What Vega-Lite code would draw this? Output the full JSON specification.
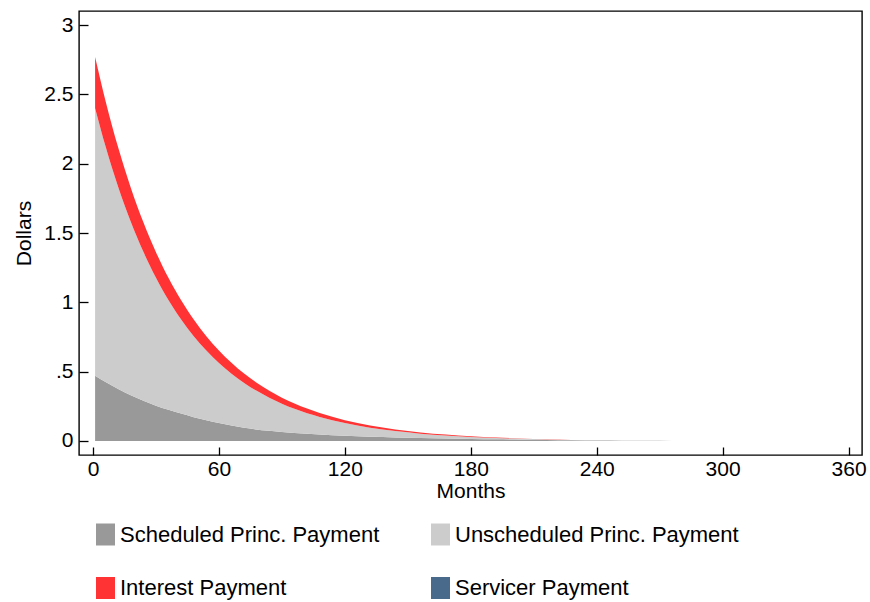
{
  "$schema": "https://vega.github.io/schema/vega-lite/v6.json",
  "width": 783,
  "height": 444,
  "autosize": {"type": "none"},
  "padding": {"left": 79, "top": 11, "right": 8, "bottom": 147},
  "config": {
    "font": "Liberation Sans",
    "view": {"stroke": "black", "strokeWidth": 1.4},
    "axis": {
      "grid": false, "domain": false, "tickColor": "black", "tickWidth": 1.3,
      "labelColor": "black", "titleColor": "black",
      "labelFont": "Liberation Sans", "titleFont": "Liberation Sans",
      "labelFontSize": 21, "titleFontSize": 21, "titleFontWeight": "normal"
    }
  },
  "data": {"values": [
    {"month":1,"series":"Scheduled Princ. Payment","k":1,"value":0.471},
    {"month":6,"series":"Scheduled Princ. Payment","k":1,"value":0.425},
    {"month":12,"series":"Scheduled Princ. Payment","k":1,"value":0.375},
    {"month":18,"series":"Scheduled Princ. Payment","k":1,"value":0.33},
    {"month":24,"series":"Scheduled Princ. Payment","k":1,"value":0.29},
    {"month":30,"series":"Scheduled Princ. Payment","k":1,"value":0.255},
    {"month":36,"series":"Scheduled Princ. Payment","k":1,"value":0.225},
    {"month":42,"series":"Scheduled Princ. Payment","k":1,"value":0.198},
    {"month":48,"series":"Scheduled Princ. Payment","k":1,"value":0.172},
    {"month":54,"series":"Scheduled Princ. Payment","k":1,"value":0.15},
    {"month":60,"series":"Scheduled Princ. Payment","k":1,"value":0.13},
    {"month":72,"series":"Scheduled Princ. Payment","k":1,"value":0.095},
    {"month":84,"series":"Scheduled Princ. Payment","k":1,"value":0.073},
    {"month":96,"series":"Scheduled Princ. Payment","k":1,"value":0.057},
    {"month":108,"series":"Scheduled Princ. Payment","k":1,"value":0.046},
    {"month":120,"series":"Scheduled Princ. Payment","k":1,"value":0.037},
    {"month":132,"series":"Scheduled Princ. Payment","k":1,"value":0.031},
    {"month":144,"series":"Scheduled Princ. Payment","k":1,"value":0.026},
    {"month":156,"series":"Scheduled Princ. Payment","k":1,"value":0.021},
    {"month":168,"series":"Scheduled Princ. Payment","k":1,"value":0.018},
    {"month":180,"series":"Scheduled Princ. Payment","k":1,"value":0.015},
    {"month":192,"series":"Scheduled Princ. Payment","k":1,"value":0.012},
    {"month":204,"series":"Scheduled Princ. Payment","k":1,"value":0.0095},
    {"month":216,"series":"Scheduled Princ. Payment","k":1,"value":0.007},
    {"month":228,"series":"Scheduled Princ. Payment","k":1,"value":0.0048},
    {"month":240,"series":"Scheduled Princ. Payment","k":1,"value":0.003},
    {"month":252,"series":"Scheduled Princ. Payment","k":1,"value":0.0018},
    {"month":264,"series":"Scheduled Princ. Payment","k":1,"value":0.001},
    {"month":276,"series":"Scheduled Princ. Payment","k":1,"value":0.0005},
    {"month":288,"series":"Scheduled Princ. Payment","k":1,"value":0.0002},
    {"month":300,"series":"Scheduled Princ. Payment","k":1,"value":0},
    {"month":320,"series":"Scheduled Princ. Payment","k":1,"value":0},
    {"month":340,"series":"Scheduled Princ. Payment","k":1,"value":0},
    {"month":360,"series":"Scheduled Princ. Payment","k":1,"value":0},
    {"month":1,"series":"Unscheduled Princ. Payment","k":2,"value":1.929},
    {"month":6,"series":"Unscheduled Princ. Payment","k":2,"value":1.698},
    {"month":12,"series":"Unscheduled Princ. Payment","k":2,"value":1.457},
    {"month":18,"series":"Unscheduled Princ. Payment","k":2,"value":1.251},
    {"month":24,"series":"Unscheduled Princ. Payment","k":2,"value":1.074},
    {"month":30,"series":"Unscheduled Princ. Payment","k":2,"value":0.922},
    {"month":36,"series":"Unscheduled Princ. Payment","k":2,"value":0.79},
    {"month":42,"series":"Unscheduled Princ. Payment","k":2,"value":0.678},
    {"month":48,"series":"Unscheduled Princ. Payment","k":2,"value":0.584},
    {"month":54,"series":"Unscheduled Princ. Payment","k":2,"value":0.502},
    {"month":60,"series":"Unscheduled Princ. Payment","k":2,"value":0.433},
    {"month":72,"series":"Unscheduled Princ. Payment","k":2,"value":0.324},
    {"month":84,"series":"Unscheduled Princ. Payment","k":2,"value":0.2395},
    {"month":96,"series":"Unscheduled Princ. Payment","k":2,"value":0.175},
    {"month":108,"series":"Unscheduled Princ. Payment","k":2,"value":0.127},
    {"month":120,"series":"Unscheduled Princ. Payment","k":2,"value":0.092},
    {"month":132,"series":"Unscheduled Princ. Payment","k":2,"value":0.065},
    {"month":144,"series":"Unscheduled Princ. Payment","k":2,"value":0.0454},
    {"month":156,"series":"Unscheduled Princ. Payment","k":2,"value":0.0321},
    {"month":168,"series":"Unscheduled Princ. Payment","k":2,"value":0.0216},
    {"month":180,"series":"Unscheduled Princ. Payment","k":2,"value":0.0145},
    {"month":192,"series":"Unscheduled Princ. Payment","k":2,"value":0.0099},
    {"month":204,"series":"Unscheduled Princ. Payment","k":2,"value":0.0066},
    {"month":216,"series":"Unscheduled Princ. Payment","k":2,"value":0.0042},
    {"month":228,"series":"Unscheduled Princ. Payment","k":2,"value":0.0025},
    {"month":240,"series":"Unscheduled Princ. Payment","k":2,"value":0.0012},
    {"month":252,"series":"Unscheduled Princ. Payment","k":2,"value":0.0008},
    {"month":264,"series":"Unscheduled Princ. Payment","k":2,"value":0.0005},
    {"month":276,"series":"Unscheduled Princ. Payment","k":2,"value":0.0003},
    {"month":288,"series":"Unscheduled Princ. Payment","k":2,"value":0.0001},
    {"month":300,"series":"Unscheduled Princ. Payment","k":2,"value":0},
    {"month":320,"series":"Unscheduled Princ. Payment","k":2,"value":0},
    {"month":340,"series":"Unscheduled Princ. Payment","k":2,"value":0},
    {"month":360,"series":"Unscheduled Princ. Payment","k":2,"value":0},
    {"month":1,"series":"Interest Payment","k":3,"value":0.37},
    {"month":6,"series":"Interest Payment","k":3,"value":0.328},
    {"month":12,"series":"Interest Payment","k":3,"value":0.284},
    {"month":18,"series":"Interest Payment","k":3,"value":0.246},
    {"month":24,"series":"Interest Payment","k":3,"value":0.213},
    {"month":30,"series":"Interest Payment","k":3,"value":0.1845},
    {"month":36,"series":"Interest Payment","k":3,"value":0.1597},
    {"month":42,"series":"Interest Payment","k":3,"value":0.1383},
    {"month":48,"series":"Interest Payment","k":3,"value":0.1198},
    {"month":54,"series":"Interest Payment","k":3,"value":0.1037},
    {"month":60,"series":"Interest Payment","k":3,"value":0.0898},
    {"month":72,"series":"Interest Payment","k":3,"value":0.0673},
    {"month":84,"series":"Interest Payment","k":3,"value":0.0505},
    {"month":96,"series":"Interest Payment","k":3,"value":0.0378},
    {"month":108,"series":"Interest Payment","k":3,"value":0.0284},
    {"month":120,"series":"Interest Payment","k":3,"value":0.0213},
    {"month":132,"series":"Interest Payment","k":3,"value":0.0159},
    {"month":144,"series":"Interest Payment","k":3,"value":0.012},
    {"month":156,"series":"Interest Payment","k":3,"value":0.009},
    {"month":168,"series":"Interest Payment","k":3,"value":0.0067},
    {"month":180,"series":"Interest Payment","k":3,"value":0.0048},
    {"month":192,"series":"Interest Payment","k":3,"value":0.0032},
    {"month":204,"series":"Interest Payment","k":3,"value":0.0019},
    {"month":216,"series":"Interest Payment","k":3,"value":0.001},
    {"month":228,"series":"Interest Payment","k":3,"value":0.0005},
    {"month":240,"series":"Interest Payment","k":3,"value":0.0002},
    {"month":252,"series":"Interest Payment","k":3,"value":0},
    {"month":264,"series":"Interest Payment","k":3,"value":0},
    {"month":276,"series":"Interest Payment","k":3,"value":0},
    {"month":288,"series":"Interest Payment","k":3,"value":0},
    {"month":300,"series":"Interest Payment","k":3,"value":0},
    {"month":320,"series":"Interest Payment","k":3,"value":0},
    {"month":340,"series":"Interest Payment","k":3,"value":0},
    {"month":360,"series":"Interest Payment","k":3,"value":0}
  ]},
  "mark": {"type": "area", "interpolate": "monotone", "opacity": 1},
  "encoding": {
    "x": {
      "field": "month", "type": "quantitative",
      "scale": {"domain": [-6.67, 366.4], "nice": false, "zero": false},
      "axis": {"values": [0, 60, 120, 180, 240, 300, 360], "tickSize": -8, "labelPadding": 11, "labelFlush": false, "title": "Months", "titlePadding": 1}
    },
    "y": {
      "field": "value", "type": "quantitative", "stack": "zero",
      "scale": {"domain": [-0.101, 3.101], "nice": false, "zero": false},
      "axis": {"values": [0, 0.5, 1, 1.5, 2, 2.5, 3], "labelExpr": "datum.value == 0.5 ? '.5' : format(datum.value, '')", "tickSize": -9, "labelPadding": 15, "title": "Dollars", "titlePadding": 9}
    },
    "order": {"field": "k", "type": "quantitative"},
    "color": {
      "field": "series", "type": "nominal",
      "scale": {
        "domain": ["Scheduled Princ. Payment", "Unscheduled Princ. Payment", "Interest Payment", "Servicer Payment"],
        "range": ["#999999", "#cccccc", "#ff3333", "#4a6a8c"]
      },
      "legend": {
        "title": null, "orient": "none", "legendX": 15.5, "legendY": 512.5,
        "direction": "horizontal", "columns": 2, "columnPadding": 50, "rowPadding": 31.5,
        "symbolType": "M-0.864,-1H0.864V1H-0.864Z", "symbolSize": 484,
        "symbolStrokeWidth": 0, "symbolOpacity": 1,
        "labelFontSize": 22, "labelFont": "Liberation Sans", "labelColor": "black",
        "labelOffset": 3.5, "labelLimit": 400, "padding": 0
      }
    }
  }
}
